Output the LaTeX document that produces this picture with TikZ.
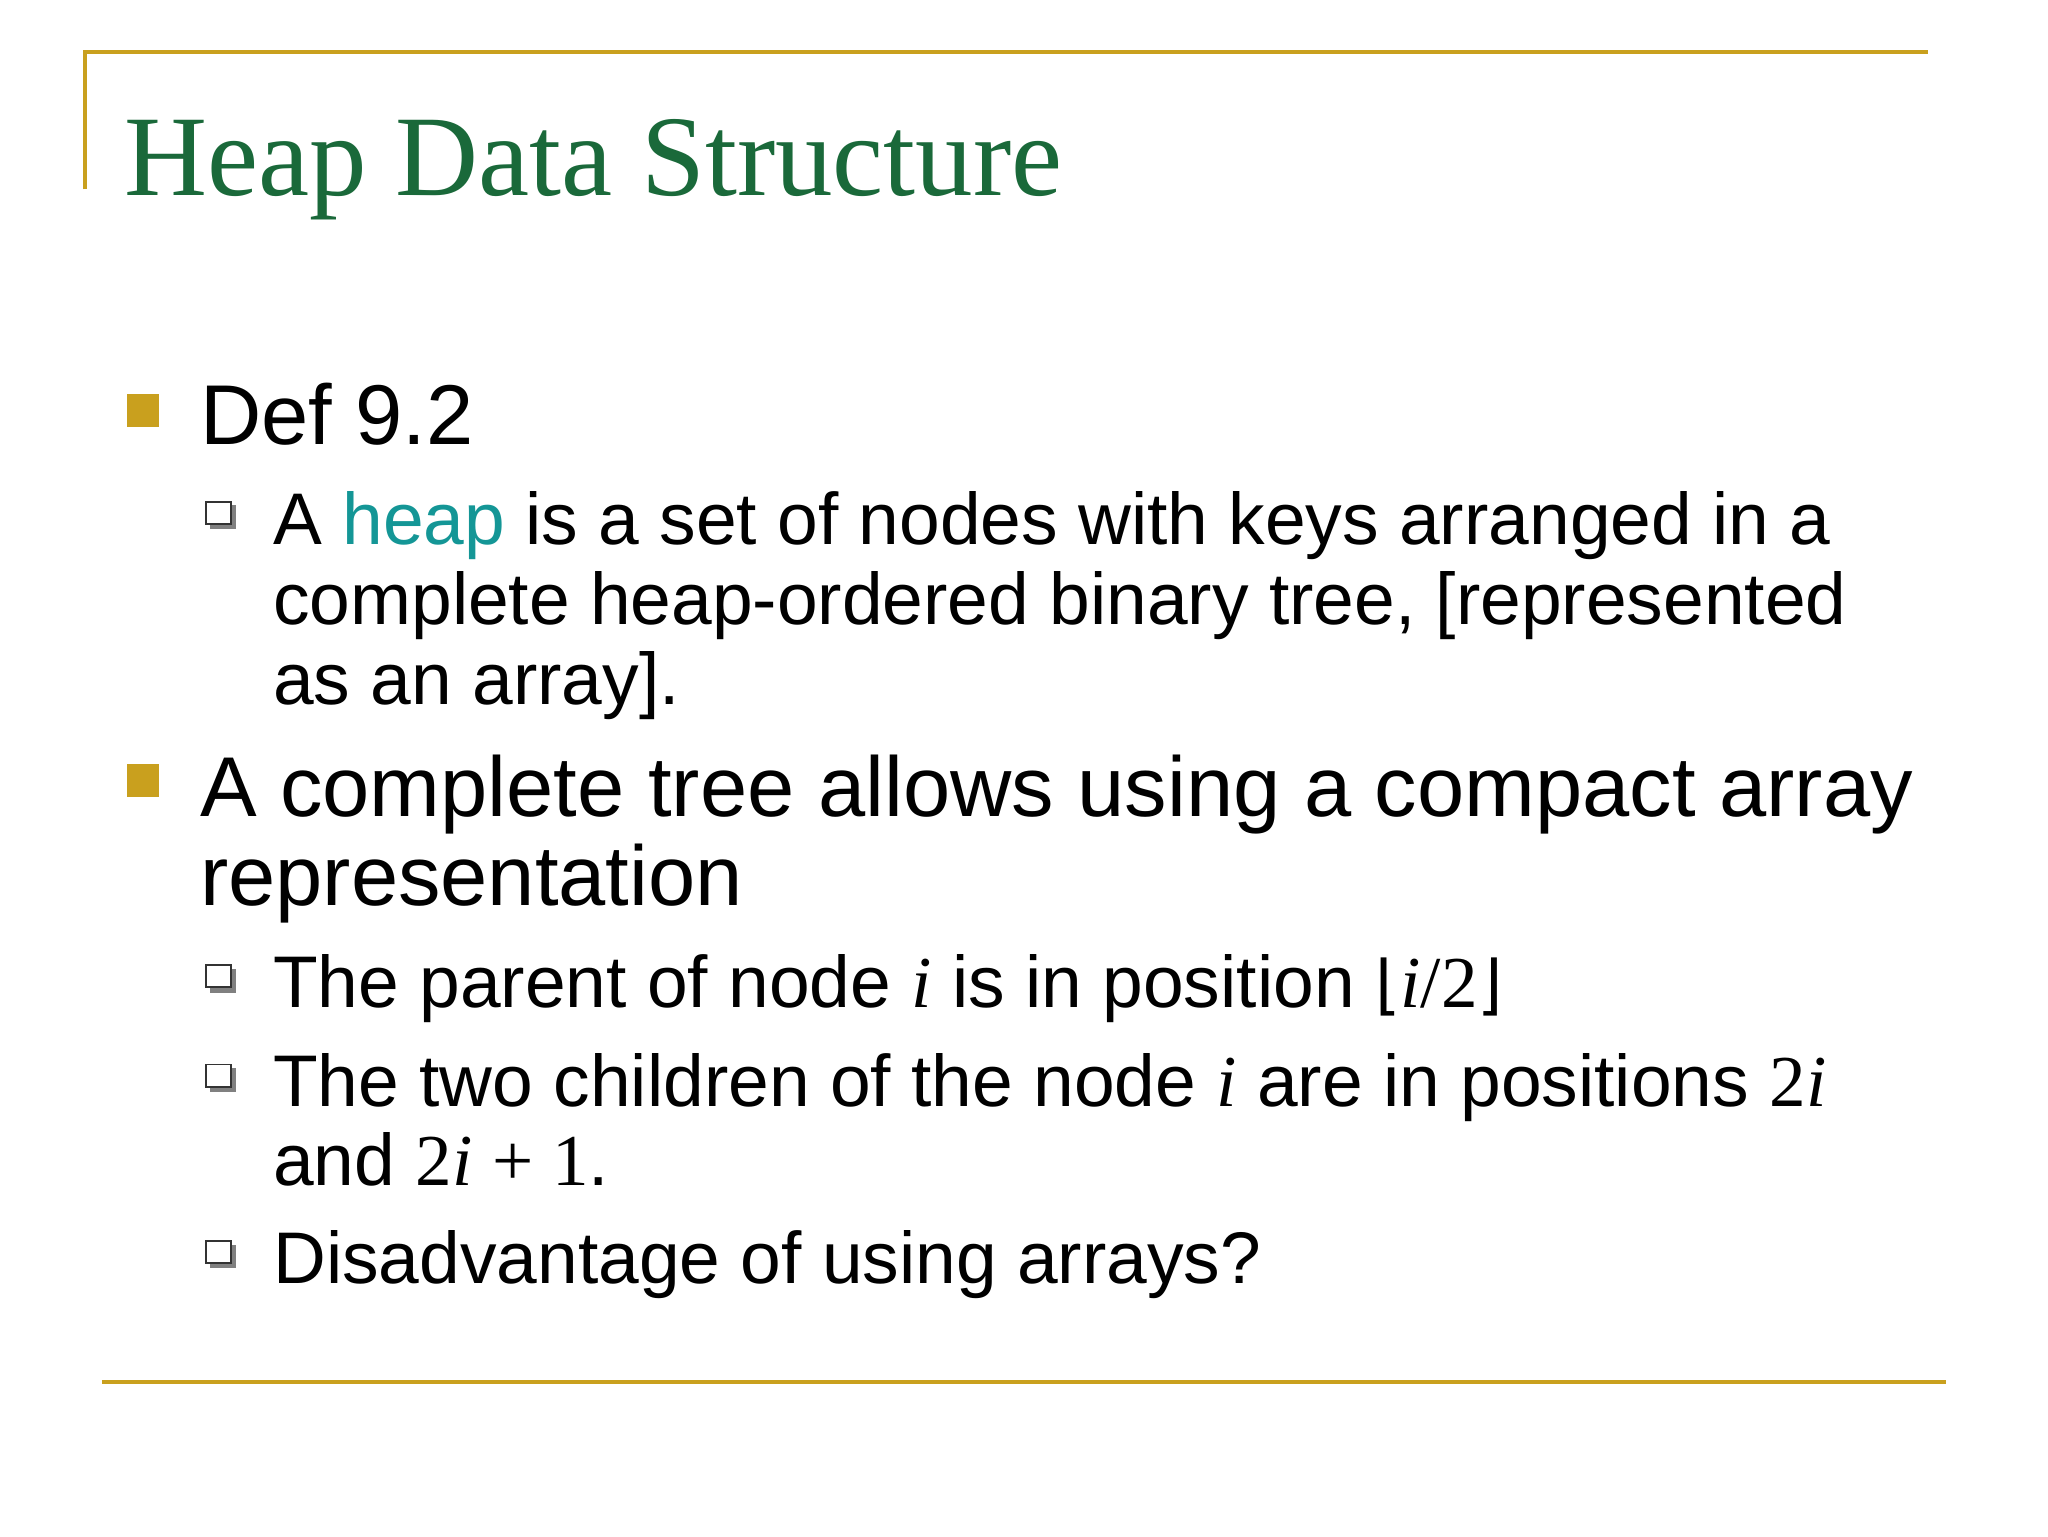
\documentclass[tikz,border=0pt]{standalone}
\usepackage{fontspec}
\setmainfont{Liberation Sans}
\newfontfamily\serifit{Liberation Serif}
\newfontfamily\ttlfont{Liberation Serif}
\newfontfamily\dv{DejaVu Sans}
\definecolor{gold}{RGB}{201,160,30}
\definecolor{ttlgreen}{RGB}{26,105,58}
\definecolor{heapc}{RGB}{20,150,150}
\newcommand{\mi}[1]{{\serifit\itshape #1}}
\newcommand{\mr}[1]{{\serifit #1}}
\begin{document}
\begin{tikzpicture}[x=1pt,y=-1pt,
  l1/.style={anchor=base west,inner sep=0pt,font=\fontsize{65}{76}\selectfont},
  l2/.style={anchor=base west,inner sep=0pt,font=\fontsize{56}{62}\selectfont},
  sq/.style={fill=gold,draw=none},
  hsq/.style={draw=black!80,line width=1.5pt,fill=white}]
\useasboundingbox (0,0) rectangle (1568,1176);
\draw[gold,line width=3pt] (65,145) -- (65,40) -- (1476,40);
\draw[gold,line width=3pt] (78,1058) -- (1490,1058);
\node[anchor=base west,inner sep=0pt,text=ttlgreen,font=\ttlfont\fontsize{88}{100}\selectfont] (title) at (95,150) {Heap Data Structure};
% level 1 bullets
\fill[sq] (97,302) rectangle (122,327);
\fill[sq] (97,585) rectangle (122,610);
\node[l1] (d) at (153,340) {Def 9.2};
\node[l1] (c1) at (153,625) {A complete tree allows using a compact array};
\node[l1] (c2) at (153,693) {representation};
% level 2 bullets
\foreach \y in {384,739,815,950}{
  \fill[black!50] (161,\y+3) rectangle (181,\y+21);
  \draw[hsq] (158,\y) rectangle (177,\y+17);
}
\node[l2] (a1) at (209,417) {A \textcolor{heapc}{heap} is a set of nodes with keys arranged in a};
\node[l2] (a2) at (209,478) {complete heap-ordered binary tree, [represented};
\node[l2] (a3) at (209,539) {as an array].};
\node[l2] (b1) at (209,771) {The parent of node \mi{i} is in position {\dv\fontsize{50}{60}\selectfont ⌊}\mi{i}\mr{/2}{\dv\fontsize{50}{60}\selectfont ⌋}};
\node[l2] (b2) at (209,847) {The two children of the node \mi{i} are in positions \mr{2}\mi{i}};
\node[l2] (b3) at (209,908) {and \mr{2}\mi{i} \mr{+ 1}.};
\node[l2] (b4) at (209,983) {Disadvantage of using arrays?};
\end{tikzpicture}
\end{document}
